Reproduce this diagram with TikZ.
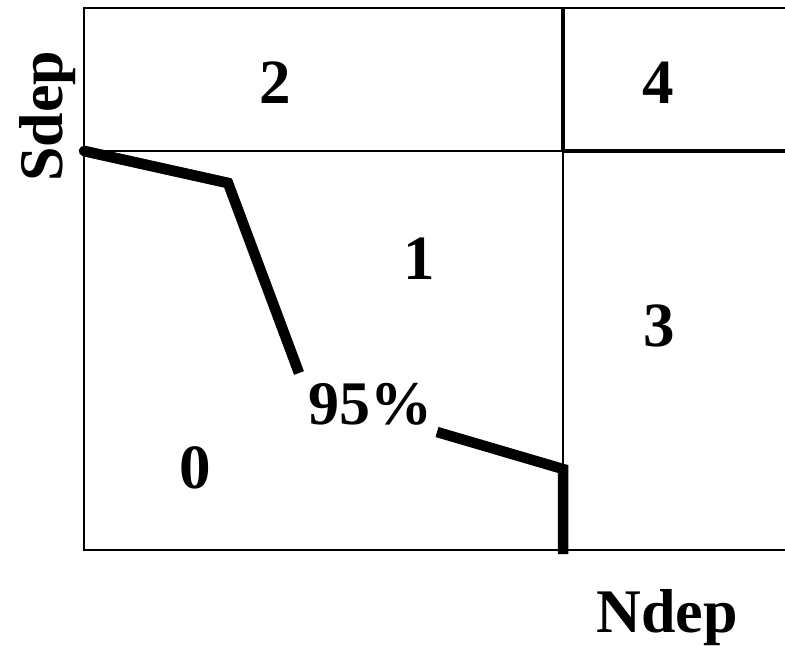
\documentclass[tikz,border=0pt]{standalone}
\usepackage{fontspec}
\setmainfont{Liberation Serif}
\begin{document}
\begin{tikzpicture}[x=1bp,y=-1bp,
  thinline/.style={line width=2.5bp},
  thickline/.style={line width=4.5bp},
  curve/.style={line width=10.5bp},
  lbl/.style={font=\fontsize{62bp}{62bp}\selectfont\bfseries, inner sep=0pt, anchor=base},
  digit/.style={font=\fontsize{63bp}{63bp}\selectfont\bfseries, inner sep=0pt, anchor=base}]
\useasboundingbox (0,0) rectangle (785,646);
% grid
\draw[thinline] (786,8) -- (84,8) -- (84,550) -- (786,550);
\draw[line width=1bp, black!40] (785,8) -- (785,550);
\draw[thinline] (84,151) -- (563,151);
\draw[thickline] (563,151) -- (786,151);
\draw[thickline] (563,8) -- (563,151);
\draw[thinline] (563,151) -- (563,550);
% curve
\coordinate (c0) at (84,151);
\coordinate (c1) at (228,183);
\coordinate (c2) at (299,373);
\coordinate (c3) at (437,432);
\coordinate (c4) at (563,469);
\coordinate (c5) at (563,554);
\draw[curve, line cap=round] (c0) -- (c1);
\draw[curve] (c0) -- (c1) -- (c2);
\draw[curve] (c3) -- (c4) -- (c5);
% labels
\node[digit] (n2) at (275,104) {2};
\node[digit] (n4) at (658,104) {4};
\node[digit] (n1) at (419,279) {1};
\node[digit] (n3) at (659,346) {3};
\node[digit] (n0) at (195,488) {0};
\node[lbl] (pct) at (370,424) {95\%};
\node[lbl, rotate=90] (sdep) at (62,116) {Sdep};
\node[lbl] (ndep) at (667,632) {Ndep};
\end{tikzpicture}
\end{document}
